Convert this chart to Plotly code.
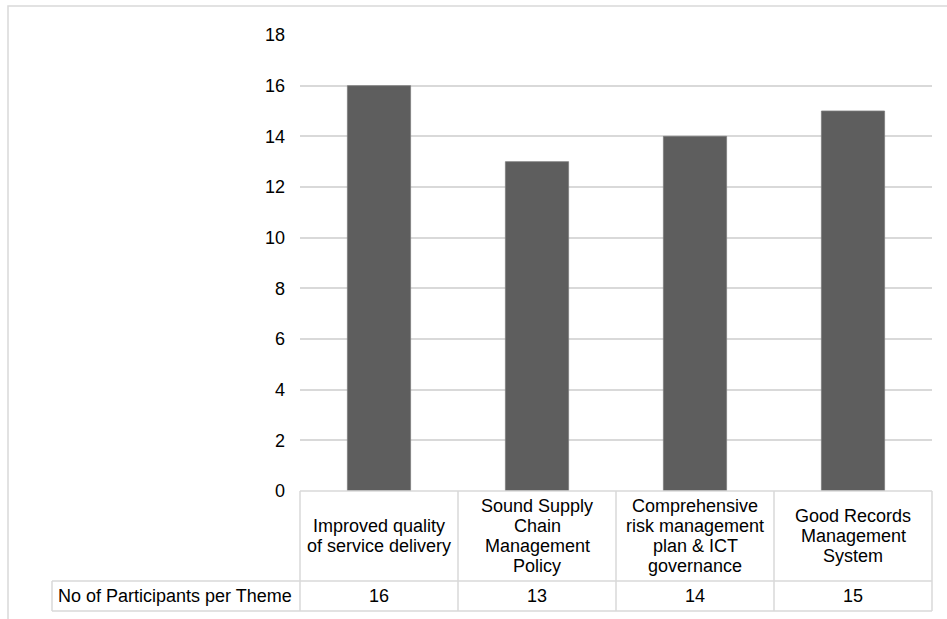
import plotly.graph_objects as go

# ---- data ----
categories = [
    "Improved quality of service delivery",
    "Sound Supply Chain Management Policy",
    "Comprehensive risk management plan & ICT governance",
    "Good Records Management System",
]
category_labels = [
    ["Improved quality", "of service delivery"],
    ["Sound Supply", "Chain", "Management", "Policy"],
    ["Comprehensive", "risk management", "plan & ICT", "governance"],
    ["Good Records", "Management", "System"],
]
participants = [16, 13, 14, 15]
series_name = "No of Participants per Theme"
y_ticks = [0, 2, 4, 6, 8, 10, 12, 14, 16, 18]

# ---- layout constants (pixels) ----
W, H = 947, 619
L, R, T, B = 300, 15, 35, 128
PW = W - L - R
PH = H - T - B
FONT = "Liberation Sans, Arial, sans-serif"
GRID = "#d9d9d9"


def xp(px):
    return (px - L) / PW


def yp(py):
    return (H - B - py) / PH


fig = go.Figure()
fig.add_trace(go.Bar(
    x=categories,
    y=participants,
    width=0.4,
    marker=dict(color="#5e5e5e", line=dict(color="#7c7c7c", width=0.8)),
    name=series_name,
    showlegend=False,
    hoverinfo="x+y",
))

shapes = []
line = dict(color=GRID, width=1.5)
# outer chart border (extends off the right and bottom edges)
shapes.append(dict(type="rect", xref="paper", yref="paper",
                   x0=xp(8), x1=xp(W + 20), y0=yp(H + 20), y1=yp(6),
                   line=line, fillcolor="rgba(0,0,0,0)", layer="below"))
# data table lines
header_bottom, table_bottom, table_left = 581, 611, 52
shapes.append(dict(type="line", xref="paper", yref="paper",
                   x0=0, x1=1, y0=0, y1=0, line=line))
for py in (header_bottom, table_bottom):
    shapes.append(dict(type="line", xref="paper", yref="paper",
                       x0=xp(table_left), x1=1, y0=yp(py), y1=yp(py), line=line))
shapes.append(dict(type="line", xref="paper", yref="paper",
                   x0=xp(table_left), x1=xp(table_left),
                   y0=yp(table_bottom), y1=yp(header_bottom), line=line))
n = len(categories)
for i in range(n + 1):
    shapes.append(dict(type="line", xref="paper", yref="paper",
                       x0=i / n, x1=i / n, y0=yp(table_bottom), y1=0, line=line))

annotations = []
tfont = dict(family=FONT, size=18, color="#000000")
header_center = (H - B + header_bottom) / 2
line_step = 20
for cat, lines in zip(categories, category_labels):
    k = len(lines)
    for j, txt in enumerate(lines):
        py = header_center + (j - (k - 1) / 2) * line_step
        annotations.append(dict(text=txt, x=cat, xref="x", y=yp(py), yref="paper",
                                xanchor="center", yanchor="middle",
                                showarrow=False, font=tfont))
value_center = (header_bottom + table_bottom) / 2
for cat, v in zip(categories, participants):
    annotations.append(dict(text=str(v), x=cat, xref="x", y=yp(value_center), yref="paper",
                            xanchor="center", yanchor="middle",
                            showarrow=False, font=tfont))
annotations.append(dict(text=series_name, x=xp(56), xref="paper", y=yp(value_center),
                        yref="paper", xanchor="left", yanchor="middle",
                        showarrow=False, font=tfont))

fig.update_layout(
    width=W, height=H,
    margin=dict(l=L, r=R, t=T, b=B, pad=0),
    paper_bgcolor="white", plot_bgcolor="white",
    bargap=0.6,
    shapes=shapes,
    annotations=annotations,
    xaxis=dict(showticklabels=False, showgrid=False, zeroline=False,
               showline=False, ticks="", fixedrange=True),
    yaxis=dict(range=[0, 18], tickvals=y_ticks, showgrid=True, gridcolor=GRID,
               gridwidth=1.5, zeroline=False, showline=False, ticks="",
               ticklabelstandoff=14,
               tickfont=dict(family=FONT, size=18, color="#000000"),
               fixedrange=True),
    font=dict(family=FONT, size=18, color="#000000"),
)

fig.write_html("out.html")
